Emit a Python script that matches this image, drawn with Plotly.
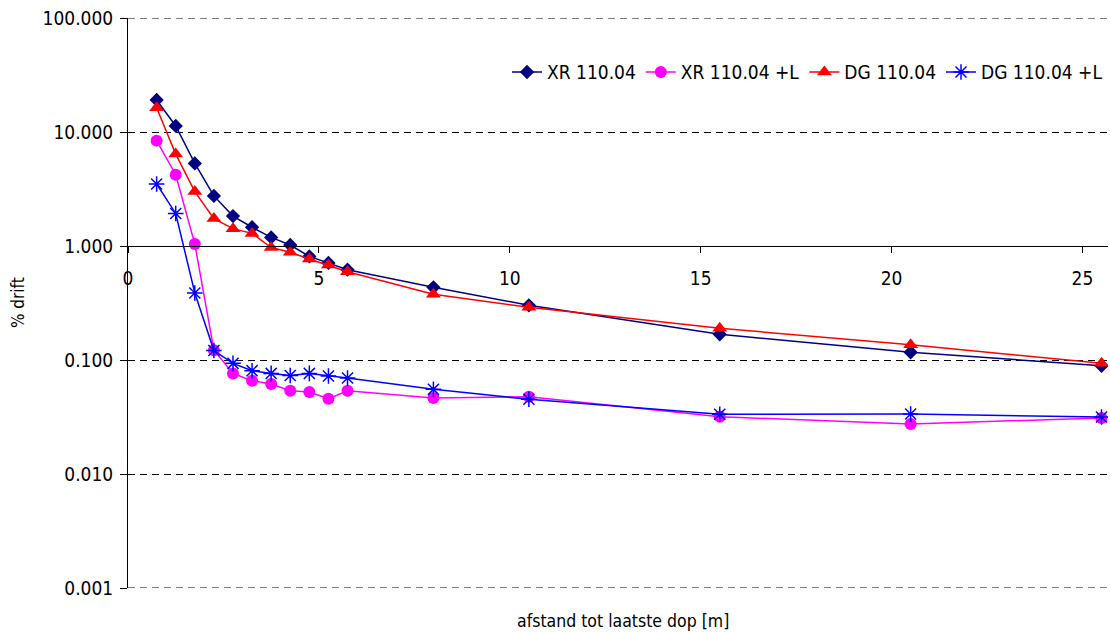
import plotly.graph_objects as go

# Data
x_vals = [0.75, 1.25, 1.75, 2.25, 2.75, 3.25, 3.75, 4.25, 4.75, 5.25, 5.75, 8.0, 10.5, 15.5, 20.5, 25.5]

xr = [19.1, 11.3, 5.3, 2.75, 1.83, 1.46, 1.19, 1.02, 0.81, 0.71, 0.62, 0.434, 0.302, 0.168, 0.117, 0.089]
xr_l = [8.4, 4.22, 1.04, 0.122, 0.0763, 0.0658, 0.0615, 0.0538, 0.0524, 0.0458, 0.0538, 0.0464, 0.0475, 0.0318, 0.0275, 0.031]
dg = [16.3, 6.4, 3.0, 1.74, 1.42, 1.29, 0.97, 0.88, 0.77, 0.68, 0.595, 0.378, 0.29, 0.19, 0.136, 0.0935]
dg_l = [3.5, 1.93, 0.387, 0.121, 0.0935, 0.0806, 0.0763, 0.0732, 0.0763, 0.0724, 0.0695, 0.0553, 0.0452, 0.0334, 0.0336, 0.0316]

series_names = ["XR 110.04", "XR 110.04 +L", "DG 110.04", "DG 110.04 +L"]
y_ticks = [0.001, 0.01, 0.1, 1, 10, 100]
y_ticktext = ["0.001", "0.010", "0.100", "1.000", "10.000", "100.000"]
x_ticks = [0, 5, 10, 15, 20, 25]
x_title = "afstand tot laatste dop [m]"
y_title = "% drift"

FONT = "DejaVu Sans Condensed, Liberation Sans Narrow, Arial Narrow, sans-serif"

fig = go.Figure()
fig.add_trace(go.Scatter(x=x_vals, y=xr, name=series_names[0], mode="lines+markers",
                         line=dict(color="#000080", width=1.5),
                         marker=dict(symbol="diamond", size=11, color="#000080")))
fig.add_trace(go.Scatter(x=x_vals, y=xr_l, name=series_names[1], mode="lines+markers",
                         line=dict(color="#FF00FF", width=1.5),
                         marker=dict(symbol="circle", size=12, color="#FF00FF")))
fig.add_trace(go.Scatter(x=x_vals, y=dg, name=series_names[2], mode="lines+markers",
                         line=dict(color="#FF0000", width=1.5),
                         marker=dict(symbol="triangle-up", size=13, color="#FF0000")))
fig.add_trace(go.Scatter(x=x_vals, y=dg_l, name=series_names[3], mode="lines+markers",
                         line=dict(color="#0000FF", width=1.5),
                         marker=dict(symbol="asterisk-open", size=13, color="#0000FF",
                                     line=dict(color="#0000FF", width=1.5))))

# dashed lines at the top and bottom of the value range (edges of the plot area)
for yv in (y_ticks[0], y_ticks[-1]):
    fig.add_shape(type="line", xref="paper", yref="y", x0=0, x1=1, y0=yv, y1=yv,
                  line=dict(color="black", width=1, dash="7px,5px"), layer="below")

fig.update_layout(
    width=1110, height=632,
    margin=dict(l=128, r=2, t=18, b=44),
    paper_bgcolor="white", plot_bgcolor="white",
    font=dict(family=FONT, size=19, color="black"),
    showlegend=True,
    legend=dict(orientation="h", x=1.0, xanchor="right", y=0.905, yanchor="middle",
                bgcolor="rgba(0,0,0,0)", font=dict(size=19, family=FONT),
                itemwidth=30, tracegroupgap=0),
    xaxis=dict(range=[0, 25.67], tickvals=x_ticks, showgrid=False, zeroline=False,
               showline=True, linecolor="black", linewidth=1,
               ticks="outside", ticklen=6, tickcolor="black",
               anchor="free", position=0.6, ticklabelstandoff=9,
               tickfont=dict(size=19)),
    yaxis=dict(type="log", range=[-3, 2], tickvals=y_ticks, ticktext=y_ticktext,
               showgrid=True, gridcolor="black", gridwidth=1, griddash="7px,5px",
               zeroline=False, showline=True, linecolor="black", linewidth=1,
               ticks="outside", ticklen=7, tickcolor="black", ticklabelstandoff=3,
               tickfont=dict(size=19)),
    annotations=[
        dict(text=x_title, xref="paper", yref="paper", x=0.5056, y=-0.058,
             xanchor="center", yanchor="middle", showarrow=False, font=dict(size=17.5)),
        dict(text=y_title, xref="paper", yref="paper", x=-0.1122, y=0.5,
             xanchor="center", yanchor="middle", textangle=-90, showarrow=False,
             font=dict(size=17)),
    ],
)

fig.write_html("out.html")
